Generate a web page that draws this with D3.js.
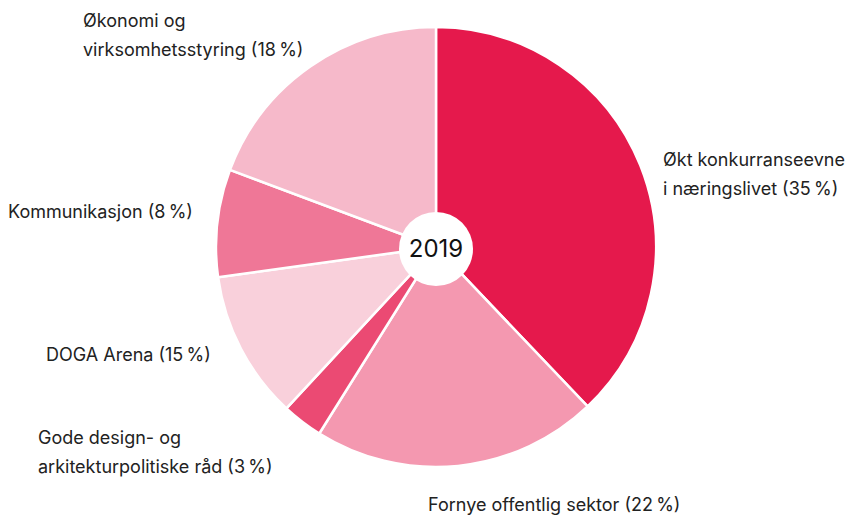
<!DOCTYPE html>
<html>
<head>
<meta charset="utf-8">
<script src="https://cdn.jsdelivr.net/npm/d3@7"></script>
<style>
  body { margin: 0; background: #fff; }
  text { font-family: Inter, "Noto Sans", sans-serif; fill: #222; }
</style>
</head>
<body>
<script>
    var width = 849, height = 515;

    // slice sizes as drawn (share of the circle), label texts as printed
    var categories = ["Økt konkurranseevne i næringslivet", "Fornye offentlig sektor",
      "Gode design- og arkitekturpolitiske råd", "DOGA Arena", "Kommunikasjon",
      "Økonomi og virksomhetsstyring"];
    var values = [37.9, 21.0, 3.0, 10.9, 7.9, 19.3];
    var percentLabels = ["35", "22", "3", "15", "8", "18"];
    var labelLines = [
      ["Økt konkurranseevne", "i næringslivet (35\u202F%)"],
      ["Fornye offentlig sektor (22\u202F%)"],
      ["Gode design- og", "arkitekturpolitiske råd (3\u202F%)"],
      ["DOGA Arena (15\u202F%)"],
      ["Kommunikasjon (8\u202F%)"],
      ["Økonomi og", "virksomhetsstyring (18\u202F%)"]
    ];
    var labelPos = [[663, 166], [428, 511], [38, 444], [46, 361], [8, 218], [83, 27]];
    var colors = ["#e5194c", "#f498b0", "#eb4a73", "#f9d0db", "#ef7797", "#f6b9ca"];

    var cx = 436, cy = 247, r = 220;

    var svg = d3.select("body").append("svg").attr("width", width).attr("height", height);

    var pie = d3.pie().sort(null).value(function(d){ return d; });
    var arc = d3.arc().innerRadius(0).outerRadius(r);

    var g = svg.append("g").attr("transform", "translate(" + cx + "," + cy + ")");

    g.selectAll("path")
        .data(pie(values))
      .enter().append("path")
        .attr("d", arc)
        .style("fill", function(d, i){ return colors[i]; })
        .style("stroke", "#fff")
        .style("stroke-width", 2.5)
        .style("stroke-linejoin", "round");

    g.append("circle")
        .attr("r", 37)
        .attr("cx", 0)
        .attr("cy", 2)
        .style("fill", "#fff");

    g.append("text")
        .attr("x", 0)
        .attr("y", 10)
        .attr("text-anchor", "middle")
        .style("font-size", "24px")
        .style("fill", "#111")
        .text("2019");

    var labels = svg.selectAll("text.label")
        .data(labelLines)
      .enter().append("text")
        .attr("class", "label")
        .style("font-size", "18px")
        .attr("transform", function(d, i){ return "translate(" + labelPos[i][0] + "," + labelPos[i][1] + ")"; });

    labels.selectAll("tspan")
        .data(function(d){ return d; })
      .enter().append("tspan")
        .attr("x", 0)
        .attr("y", function(d, j){ return j * 28.5; })
        .text(function(d){ return d; });
</script>
</body>
</html>
